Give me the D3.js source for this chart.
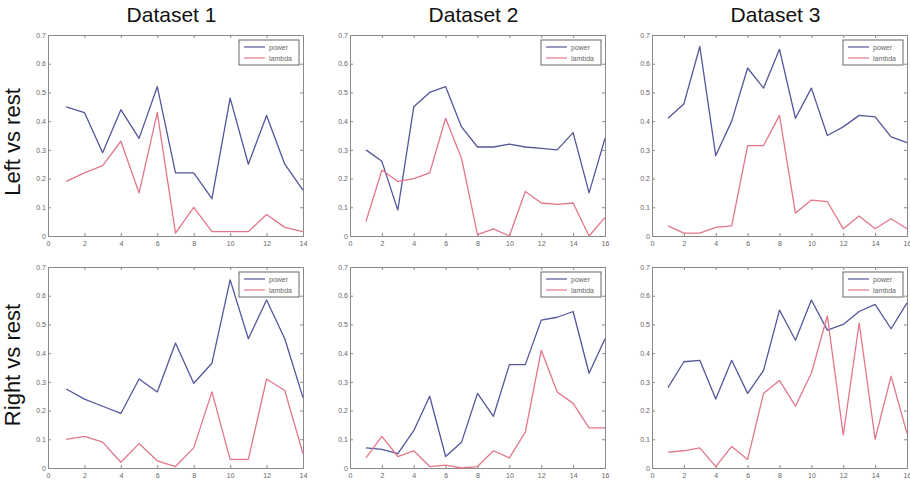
<!DOCTYPE html>
<html>
<head>
<meta charset="utf-8">
<script src="https://cdn.jsdelivr.net/npm/d3@7"></script>
<style>
  body { margin: 0; background: #fff; }
  svg { display: block; }
</style>
</head>
<body>
<svg id="chart" width="910" height="482"></svg>
<script>
// ---- data ----
const datasetTitles = ["Dataset 1", "Dataset 2", "Dataset 3"];
const rowLabels = ["Left vs rest", "Right vs rest"];
const seriesNames = ["power", "lambda"];
const xMax = [14, 16, 16];
const yTicks = [0, 0.1, 0.2, 0.3, 0.4, 0.5, 0.6, 0.7];
const yTickLabels = ["0", "0.1", "0.2", "0.3", "0.4", "0.5", "0.6", "0.7"];

const leftD1Power  = [0.45, 0.43, 0.29, 0.44, 0.34, 0.52, 0.22, 0.22, 0.13, 0.48, 0.25, 0.42, 0.25, 0.16];
const leftD1Lambda = [0.19, 0.22, 0.245, 0.33, 0.15, 0.43, 0.01, 0.10, 0.015, 0.015, 0.015, 0.075, 0.03, 0.015];
const leftD2Power  = [0.30, 0.26, 0.09, 0.45, 0.50, 0.52, 0.38, 0.31, 0.31, 0.32, 0.31, 0.305, 0.30, 0.36, 0.15, 0.34];
const leftD2Lambda = [0.05, 0.23, 0.19, 0.20, 0.22, 0.41, 0.27, 0.005, 0.025, 0.0, 0.155, 0.115, 0.11, 0.115, 0.0, 0.065];
const leftD3Power  = [0.41, 0.46, 0.66, 0.28, 0.40, 0.585, 0.515, 0.65, 0.41, 0.515, 0.35, 0.38, 0.42, 0.415, 0.345, 0.325];
const leftD3Lambda = [0.035, 0.01, 0.01, 0.03, 0.035, 0.315, 0.315, 0.42, 0.08, 0.125, 0.12, 0.025, 0.07, 0.025, 0.06, 0.025];
const rightD1Power  = [0.275, 0.24, 0.215, 0.19, 0.31, 0.265, 0.435, 0.295, 0.365, 0.655, 0.45, 0.585, 0.45, 0.245];
const rightD1Lambda = [0.10, 0.11, 0.09, 0.02, 0.085, 0.025, 0.005, 0.07, 0.265, 0.03, 0.03, 0.31, 0.27, 0.05];
const rightD2Power  = [0.07, 0.065, 0.05, 0.13, 0.25, 0.04, 0.09, 0.26, 0.18, 0.36, 0.36, 0.515, 0.525, 0.545, 0.33, 0.45];
const rightD2Lambda = [0.035, 0.11, 0.04, 0.06, 0.005, 0.01, 0.0, 0.005, 0.06, 0.035, 0.125, 0.41, 0.265, 0.225, 0.14, 0.14];
const rightD3Power  = [0.28, 0.37, 0.375, 0.24, 0.375, 0.26, 0.34, 0.55, 0.445, 0.585, 0.48, 0.50, 0.545, 0.57, 0.485, 0.575];
const rightD3Lambda = [0.055, 0.06, 0.07, 0.005, 0.075, 0.03, 0.26, 0.305, 0.215, 0.33, 0.53, 0.115, 0.505, 0.10, 0.32, 0.12];

const panels = [
  [[leftD1Power, leftD1Lambda], [leftD2Power, leftD2Lambda], [leftD3Power, leftD3Lambda]],
  [[rightD1Power, rightD1Lambda], [rightD2Power, rightD2Lambda], [rightD3Power, rightD3Lambda]]
];

// ---- layout ----
const colLeft = [48, 350, 652];
const rowTop = [35, 267];
const pw = 255, ph = 201;
const colors = ["#53569a", "#e2768a"];
const frameColor = "#8a8a8a";
const tickTextColor = "#666";

const svg = d3.select("#chart");

datasetTitles.forEach((t, c) => {
  svg.append("text")
    .attr("x", colLeft[c] + pw / 2 - 4)
    .attr("y", 22)
    .attr("text-anchor", "middle")
    .attr("font-family", "Liberation Sans, Arial, sans-serif")
    .attr("font-size", 21)
    .attr("fill", "#111")
    .text(t);
});

const rowLabelY = [142, 365];
rowLabels.forEach((t, r) => {
  svg.append("text")
    .attr("transform", `translate(20,${rowLabelY[r]}) rotate(-90)`)
    .attr("text-anchor", "middle")
    .attr("font-family", "Liberation Sans, Arial, sans-serif")
    .attr("font-size", 22)
    .attr("fill", "#111")
    .text(t);
});

panels.forEach((row, r) => {
  row.forEach((series, c) => {
    const g = svg.append("g").attr("transform", `translate(${colLeft[c]},${rowTop[r]})`);
    const x = d3.scaleLinear().domain([0, xMax[c]]).range([0, pw]);
    const y = d3.scaleLinear().domain([0, 0.7]).range([ph, 0]);
    const xt = d3.range(0, xMax[c] + 1, 2);

    const fontAttrs = sel => sel.selectAll("text")
      .attr("font-family", "Liberation Sans, Arial, sans-serif")
      .attr("font-size", 7)
      .attr("fill", tickTextColor);

    const xb = g.append("g").attr("transform", `translate(0,${ph})`)
      .call(d3.axisBottom(x).tickValues(xt).tickSize(-3).tickPadding(5).tickFormat(d3.format("d")));
    fontAttrs(xb);
    const xtop = g.append("g")
      .call(d3.axisTop(x).tickValues(xt).tickSize(-3).tickFormat(""));
    const yl = g.append("g")
      .call(d3.axisLeft(y).tickValues(yTicks).tickSize(-3).tickPadding(2)
        .tickFormat((d, i) => yTickLabels[i]));
    fontAttrs(yl);
    const yr = g.append("g").attr("transform", `translate(${pw},0)`)
      .call(d3.axisRight(y).tickValues(yTicks).tickSize(-3).tickFormat(""));
    [xb, xtop, yl, yr].forEach(a => {
      a.select(".domain").attr("stroke", frameColor).attr("stroke-width", 1);
      a.selectAll(".tick line").attr("stroke", frameColor);
    });

    const line = d3.line().x((d, i) => x(i + 1)).y(d => y(d));
    series.forEach((vals, s) => {
      g.append("path")
        .datum(vals)
        .attr("fill", "none")
        .attr("stroke", colors[s])
        .attr("stroke-width", 1.3)
        .attr("stroke-linejoin", "round")
        .attr("d", line);
    });

    const lw = 60, lh = 25;
    const lg = g.append("g").attr("transform", `translate(${pw - lw - 4},5)`);
    lg.append("rect").attr("width", lw).attr("height", lh)
      .attr("fill", "#fff").attr("stroke", "#666").attr("stroke-width", 1);
    seriesNames.forEach((n, s) => {
      const yy = 7 + s * 11;
      lg.append("line").attr("x1", 5).attr("x2", 26).attr("y1", yy).attr("y2", yy)
        .attr("stroke", colors[s]).attr("stroke-width", 1.2);
      lg.append("text").attr("x", 30).attr("y", yy + 2.5)
        .attr("font-family", "Liberation Sans, Arial, sans-serif")
        .attr("font-size", 7).attr("fill", tickTextColor).text(n);
    });
  });
});
</script>
</body>
</html>
